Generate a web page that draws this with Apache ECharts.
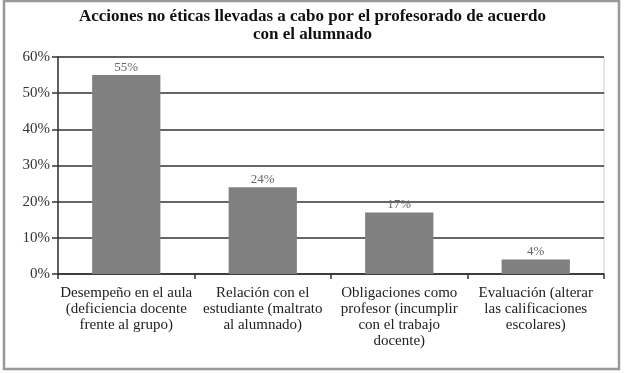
<!DOCTYPE html>
<html>
<head>
<meta charset="utf-8">
<script src="https://cdn.jsdelivr.net/npm/echarts@6/dist/echarts.min.js"></script>
<style>
html,body{margin:0;padding:0;background:#fff;}
#c{width:625px;height:373px;}
</style>
</head>
<body>
<div id="c"></div>
<script>
const titleText = 'Acciones no éticas llevadas a cabo por el profesorado de acuerdo\ncon el alumnado';
const categories = [
  'Desempeño en el aula\n(deficiencia docente\nfrente al grupo)',
  'Relación con el\nestudiante (maltrato\nal alumnado)',
  'Obligaciones como\nprofesor (incumplir\ncon el trabajo\ndocente)',
  'Evaluación (alterar\nlas calificaciones\nescolares)'
];
const values = [55, 24, 17, 4];
const yTicks = [0, 10, 20, 30, 40, 50, 60];

const serif = '"Liberation Serif", "DejaVu Serif", serif';
const chart = echarts.init(document.getElementById('c'), null, {renderer: 'canvas'});
chart.setOption({
  animation: false,
  backgroundColor: '#fff',
  title: {
    text: titleText,
    left: 'center',
    top: 3,
    textStyle: {fontFamily: serif, fontSize: 17, fontWeight: 'bold', color: '#111', lineHeight: 18}
  },
  graphic: [{
    type: 'rect',
    shape: {x: 4, y: 1, width: 615, height: 368},
    style: {fill: 'none', stroke: '#999', lineWidth: 2.5},
    silent: true
  }],
  grid: {left: 58, right: 21, top: 57, bottom: 99, show: true, borderColor: '#ccc', borderWidth: 1},
  xAxis: {
    type: 'category',
    data: categories,
    axisLine: {lineStyle: {color: '#333', width: 1.5}},
    axisTick: {show: true, length: 5, lineStyle: {color: '#333', width: 1.5}},
    axisLabel: {fontFamily: serif, fontSize: 15, color: '#222', lineHeight: 16, margin: 11, interval: 0}
  },
  yAxis: {
    type: 'value',
    min: yTicks[0],
    max: yTicks[yTicks.length - 1],
    interval: 10,
    axisLine: {show: true, lineStyle: {color: '#333', width: 1.5}},
    axisTick: {show: true, length: 6, lineStyle: {color: '#333', width: 1.5}},
    splitLine: {show: true, lineStyle: {color: '#333', width: 1.5}},
    axisLabel: {fontFamily: serif, fontSize: 15, color: '#333', margin: 8, formatter: v => v + '%'}
  },
  series: [{
    type: 'bar',
    data: values,
    barWidth: '50%',
    itemStyle: {color: '#808080'},
    label: {show: true, position: 'top', distance: 1, fontFamily: serif, fontSize: 13, color: '#666', formatter: p => p.value + '%'}
  }]
});
</script>
</body>
</html>
